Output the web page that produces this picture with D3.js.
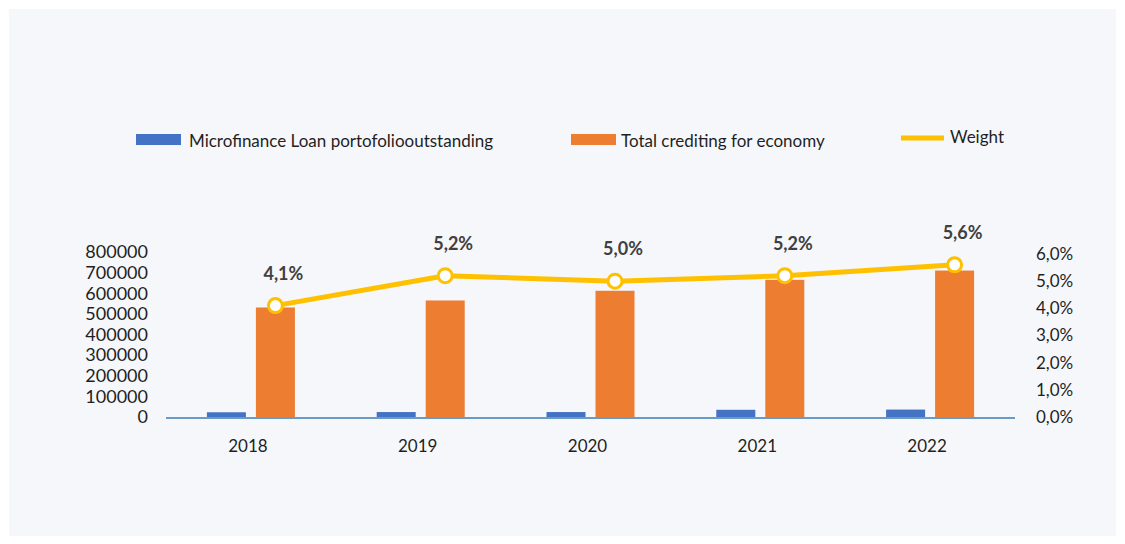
<!DOCTYPE html>
<html>
<head>
<meta charset="utf-8">
<script src="https://cdn.jsdelivr.net/npm/d3@7"></script>
<style>
  html, body { margin: 0; padding: 0; background: #ffffff; }
  svg { display: block; }
  text { font-family: "Lato", "Inter", sans-serif; }
</style>
</head>
<body>
<svg id="chart" width="1125" height="544"></svg>
<script>
// Years on the category axis
const years = ["2018", "2019", "2020", "2021", "2022"];
// Microfinance loan portfolio outstanding
const microfinance = [23000, 24000, 24000, 35000, 36000];
// Total crediting for the economy
const totalCredit = [531000, 565000, 612000, 665000, 710000];
// Share of microfinance in total crediting (%)
const weight = [4.1, 5.2, 5.0, 5.2, 5.6];
// Axis ticks
const leftTicks = [0, 100000, 200000, 300000, 400000, 500000, 600000, 700000, 800000];
const rightTicks = [0, 1, 2, 3, 4, 5, 6];

const series = [
  { name: "Microfinance Loan portofoliooutstanding", values: microfinance, color: "#4472c4" },
  { name: "Total crediting for economy", values: totalCredit, color: "#ed7d31" }
];

const svg = d3.select("#chart");

// light panel
svg.append("rect")
  .attr("x", 9).attr("y", 9).attr("width", 1107).attr("height", 527)
  .attr("fill", "#f6f7fb");

const plot = { left: 166, right: 1015, top: 252, bottom: 417 };

const x = d3.scaleBand().domain(years).range([plot.left, plot.right]).paddingInner(0).paddingOuter(0);
const yLeft = d3.scaleLinear().domain([0, 800000]).range([plot.bottom, plot.top]);
const yRight = d3.scaleLinear().domain([0, 6]).range([plot.bottom, 254]);

const barW = 39, barGap = 10;
const groupW = barW * 2 + barGap;
const barX = (year, i) => x(year) + (x.bandwidth() - groupW) / 2 + i * (barW + barGap);

// bars
series.forEach((s, i) => {
  svg.append("g").selectAll("rect")
    .data(years)
    .join("rect")
    .attr("x", d => barX(d, i))
    .attr("width", barW)
    .attr("y", (d, j) => yLeft(s.values[j]))
    .attr("height", (d, j) => plot.bottom - yLeft(s.values[j]))
    .attr("fill", s.color);
});

// baseline
svg.append("line")
  .attr("x1", plot.left).attr("x2", plot.right)
  .attr("y1", plot.bottom + 1).attr("y2", plot.bottom + 1)
  .attr("stroke", "#6a9bc6").attr("stroke-width", 2);

// left axis
const leftAxis = d3.axisLeft(yLeft).tickValues(leftTicks).tickSize(0).tickPadding(0).tickFormat(d3.format("d"));
const gl = svg.append("g").attr("transform", "translate(148,0)").call(leftAxis);
gl.select(".domain").remove();
gl.selectAll("text").attr("font-size", 18).attr("fill", "#1f1f1f").attr("font-family", "Lato, sans-serif");

// right axis
const pct = d => d3.format(".1f")(d).replace(".", ",") + "%";
const rightAxis = d3.axisRight(yRight).tickValues(rightTicks).tickSize(0).tickPadding(0).tickFormat(pct);
const gr = svg.append("g").attr("transform", "translate(1036,0)").call(rightAxis);
gr.select(".domain").remove();
gr.selectAll("text").attr("font-size", 17).attr("fill", "#1f1f1f").attr("font-family", "Lato, sans-serif");

// category labels
svg.append("g").selectAll("text")
  .data(years)
  .join("text")
  .attr("x", d => x(d) + x.bandwidth() / 2 - 3)
  .attr("y", 452)
  .attr("text-anchor", "middle")
  .attr("font-size", 17)
  .attr("fill", "#1f1f1f")
  .text(d => d);

// weight line, plotted over the second bar of each group
const lx = year => barX(year, 1) + barW / 2;
const line = d3.line().x((d, i) => lx(years[i])).y(d => yRight(d));
svg.append("path")
  .datum(weight)
  .attr("d", line)
  .attr("fill", "none")
  .attr("stroke", "#ffc000")
  .attr("stroke-width", 5)
  .attr("stroke-linejoin", "round");

svg.append("g").selectAll("circle")
  .data(weight)
  .join("circle")
  .attr("cx", (d, i) => lx(years[i]))
  .attr("cy", d => yRight(d))
  .attr("r", 7)
  .attr("fill", "#ffffff")
  .attr("stroke", "#ffc000")
  .attr("stroke-width", 3);

svg.append("g").selectAll("text")
  .data(weight)
  .join("text")
  .attr("x", (d, i) => lx(years[i]) + 8)
  .attr("y", d => yRight(d) - 26)
  .attr("text-anchor", "middle")
  .attr("font-size", 18)
  .attr("font-weight", "bold")
  .attr("fill", "#404040")
  .text(d => pct(d));

// legend
const legend = svg.append("g");
legend.append("rect").attr("x", 136).attr("y", 134).attr("width", 45).attr("height", 11).attr("fill", series[0].color);
legend.append("text").attr("x", 189).attr("y", 147).attr("font-size", 17).attr("fill", "#1f1f1f").text(series[0].name);
legend.append("rect").attr("x", 571).attr("y", 134).attr("width", 45).attr("height", 11).attr("fill", series[1].color);
legend.append("text").attr("x", 621).attr("y", 147).attr("font-size", 17).attr("fill", "#1f1f1f").text(series[1].name);
legend.append("line").attr("x1", 901).attr("x2", 944).attr("y1", 138).attr("y2", 138)
  .attr("stroke", "#ffc000").attr("stroke-width", 5);
legend.append("text").attr("x", 950).attr("y", 143).attr("font-size", 17).attr("fill", "#1f1f1f").text("Weight");
</script>
</body>
</html>
